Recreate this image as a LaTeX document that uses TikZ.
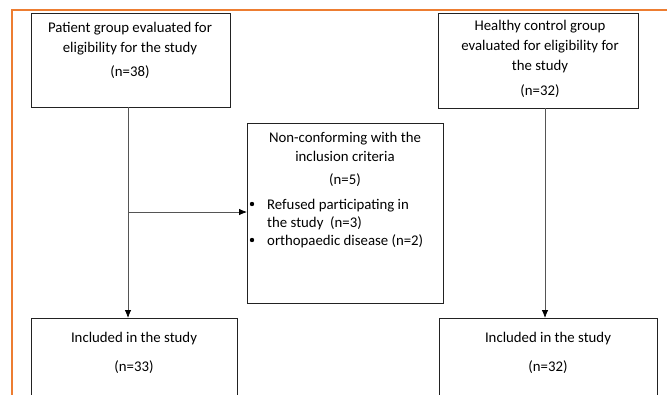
\documentclass[tikz,border=0pt]{standalone}
\usepackage{fontspec}
\setmainfont{Carlito}
\usetikzlibrary{arrows.meta}
\definecolor{frameorange}{HTML}{ED7D31}
\definecolor{boxline}{HTML}{222222}
\definecolor{arrline}{HTML}{555555}
\tikzset{
  box/.style={draw=boxline, line width=1.3pt, fill=none},
  txt/.style={font=\fontsize{14.8}{17}\selectfont, text=black, inner sep=0pt, anchor=base},
  txtl/.style={txt, anchor=base west},
  arr/.style={draw=arrline, line width=0.8pt, -{Latex[length=8pt,width=6.5pt,color=black]}},
}
\begin{document}
\begin{tikzpicture}[x=1pt,y=-1pt]
\useasboundingbox (0,0) rectangle (667,394);
\clip (0,0) rectangle (667,394);
\fill[white] (0,0) rectangle (667,394);
% orange frame
\draw[frameorange, line width=2pt] (12,400) -- (12,10) -- (670,10);
% boxes
\node[box, minimum width=199pt, minimum height=94pt, anchor=north west] (b1) at (31,13) {};
\node[box, minimum width=200pt, minimum height=95pt, anchor=north west] (b2) at (438,13) {};
\node[box, minimum width=196pt, minimum height=180pt, anchor=north west] (mid) at (247,123) {};
\node[box, minimum width=206pt, minimum height=100pt, anchor=north west] (in1) at (31,318) {};
\node[box, minimum width=218pt, minimum height=100pt, anchor=north west] (in2) at (439,318) {};
% texts box 1
\node[txt] (t1a) at (130,32.3) {Patient group evaluated for};
\node[txt] (t1b) at (130,52.3) {eligibility for the study};
\node[txt] (t1c) at (130,76.5) {(n=38)};
% texts box 2
\node[txt] (t2a) at (540,30.5) {Healthy control group};
\node[txt] (t2b) at (540,50.5) {evaluated for eligibility for};
\node[txt] (t2c) at (540,70.5) {the study};
\node[txt] (t2d) at (540,95) {(n=32)};
% middle box texts
\node[txt] (t3a) at (345,142.7) {Non-conforming with the};
\node[txt] (t3b) at (345,161.5) {inclusion criteria};
\node[txt] (t3c) at (345,184) {(n=5)};
\fill[black] (252,204) circle (2.2pt);
\fill[black] (252,240) circle (2.2pt);
\node[txtl] (t3d) at (267,209) {Refused participating in};
\node[txtl] (t3e) at (267,227) {the study\ \ (n=3)};
\node[txtl] (t3f) at (267,245) {orthopaedic disease (n=2)};
% bottom texts
\node[txt] (t4a) at (134,342) {Included in the study};
\node[txt] (t4b) at (134,371) {(n=33)};
\node[txt] (t5a) at (548,342) {Included in the study};
\node[txt] (t5b) at (548,371) {(n=32)};
% connectors
\coordinate (s1) at (128,107);
\coordinate (j1) at (128,212);
\coordinate (s2) at (545,108);
\draw[arr] (s1) -- (s1 |- in1.north);
\draw[arr] (j1) -- (j1 -| mid.west);
\draw[arr] (s2) -- (s2 |- in2.north);
\end{tikzpicture}
\end{document}
